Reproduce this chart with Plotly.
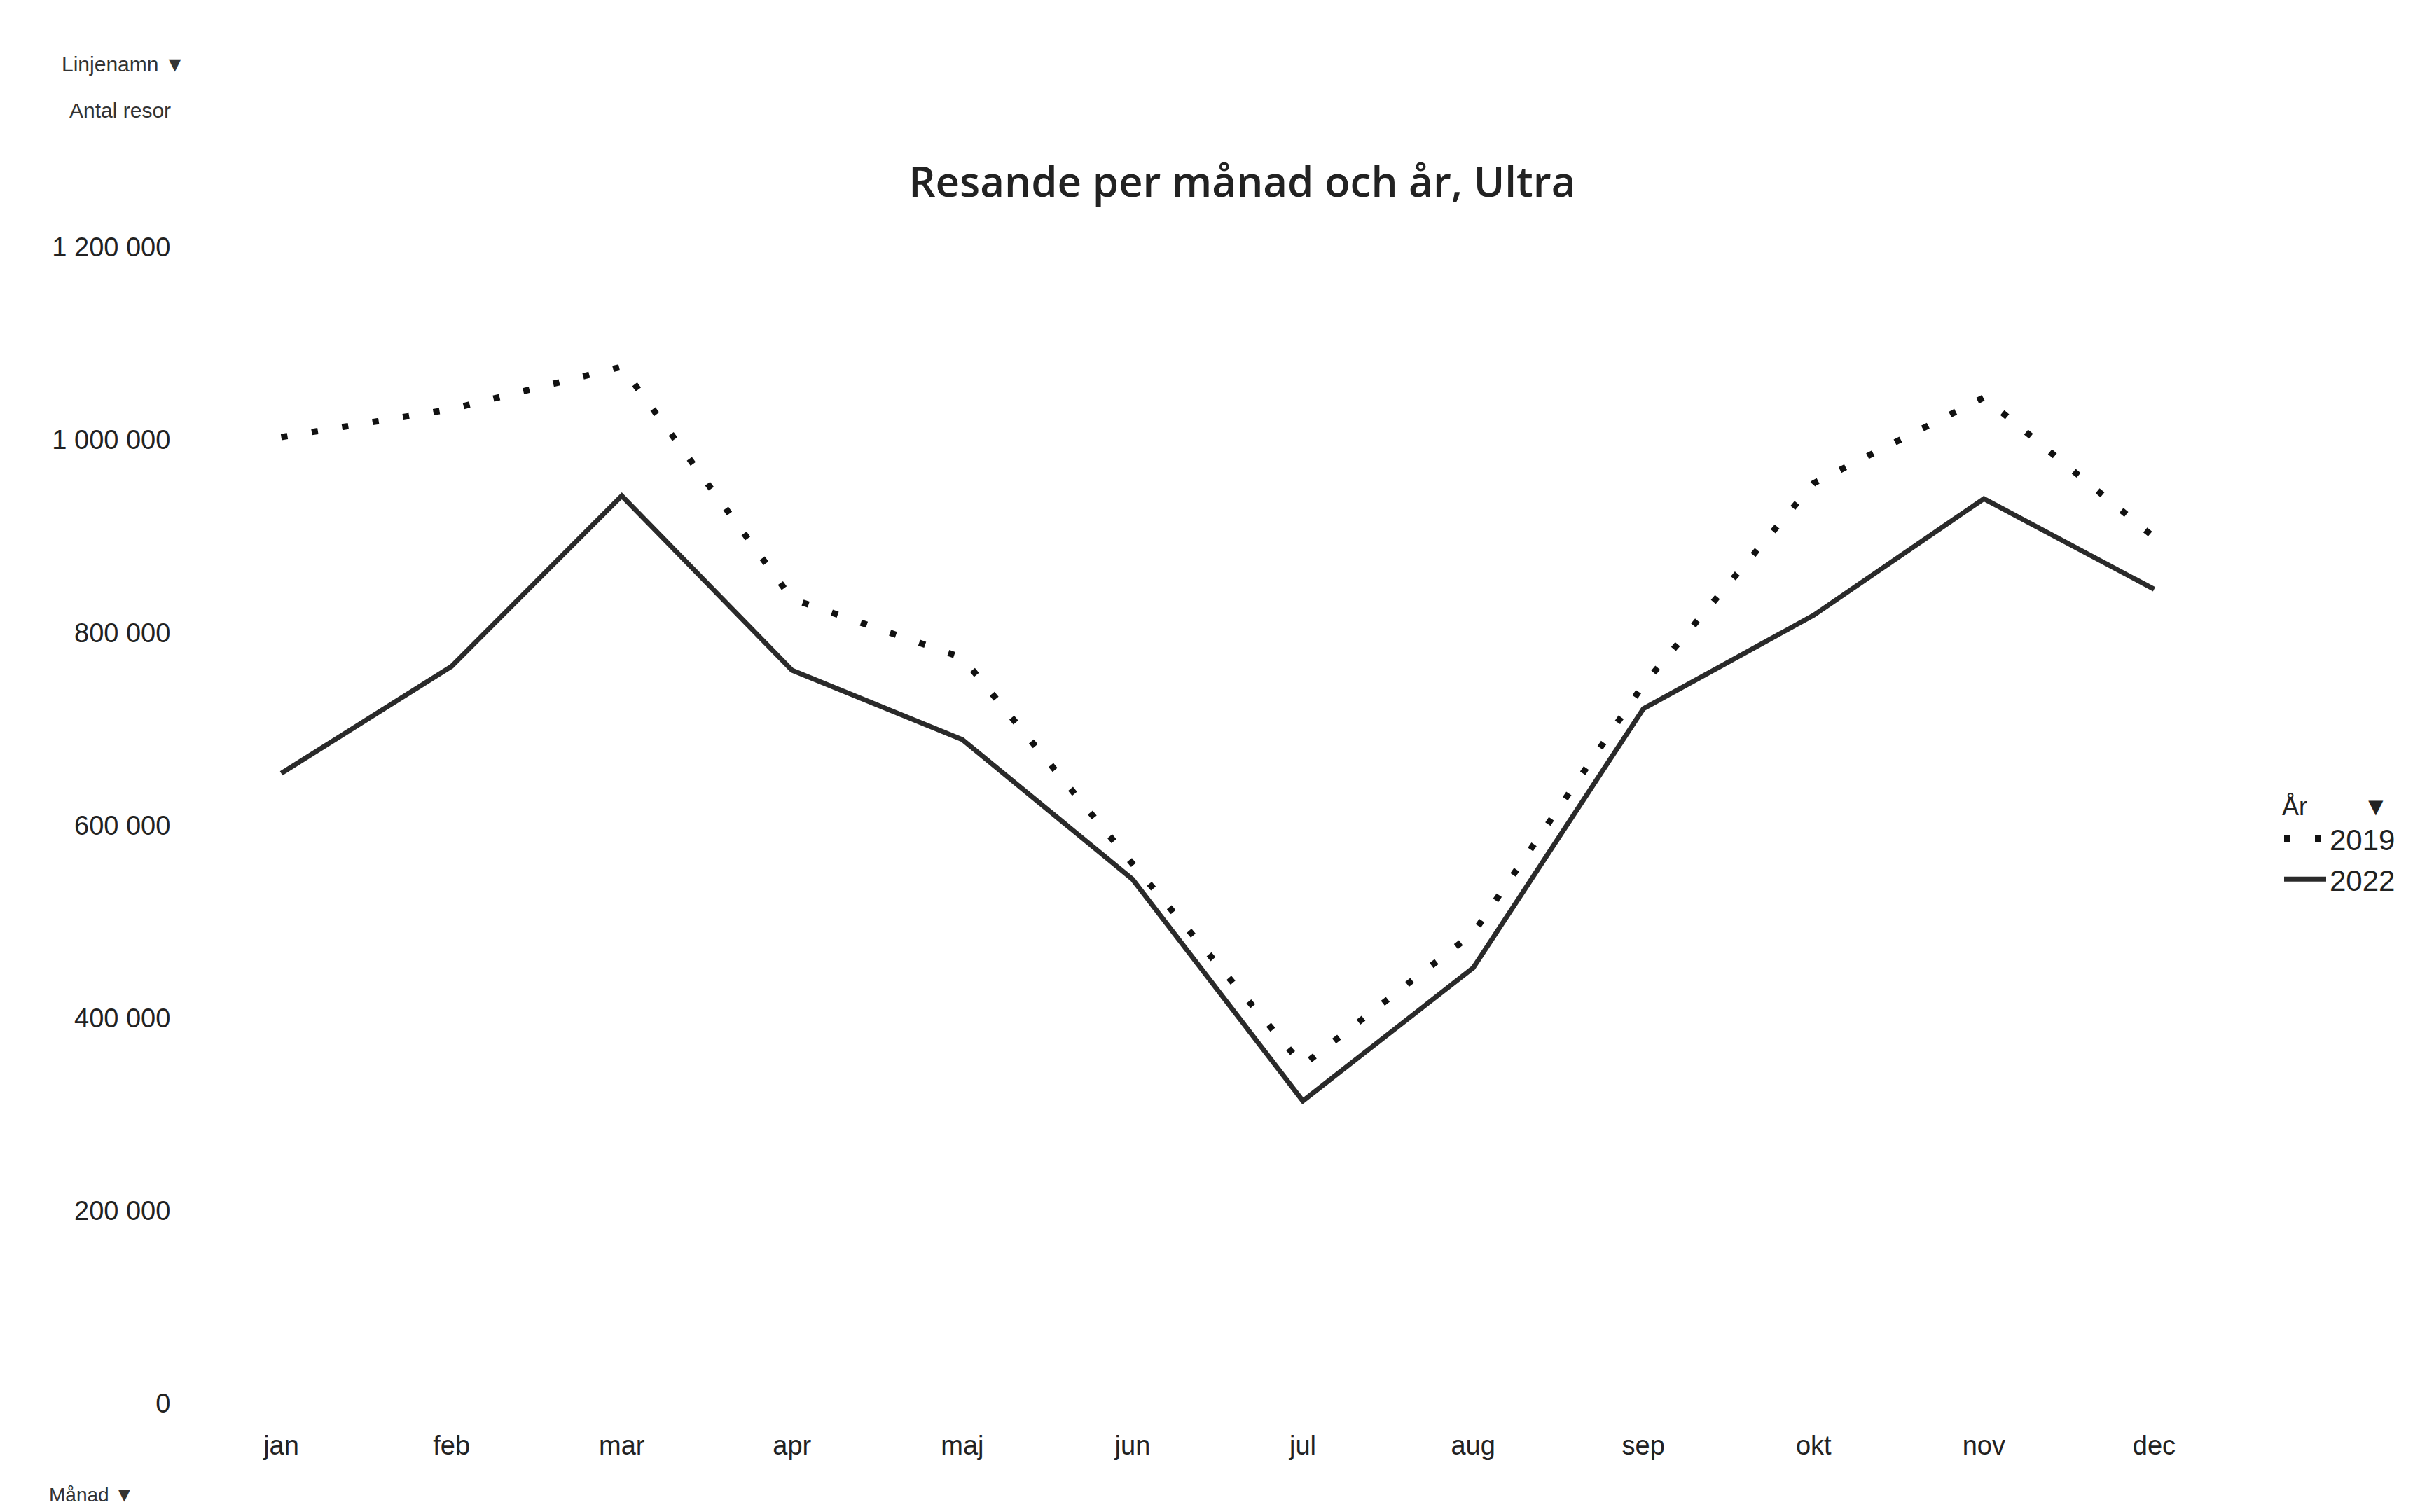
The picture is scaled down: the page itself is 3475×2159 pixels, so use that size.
import plotly.graph_objects as go

months = ["jan", "feb", "mar", "apr", "maj", "jun", "jul", "aug", "sep", "okt", "nov", "dec"]
years = ["2019", "2022"]
values_2019 = [1003000, 1032000, 1076000, 835000, 774000, 560000, 351000, 488000, 746000, 955000, 1044000, 899000]
values_2022 = [654000, 765000, 942000, 761000, 689000, 544000, 314000, 452000, 721000, 818000, 939000, 845000]
y_ticks = [0, 200000, 400000, 600000, 800000, 1000000, 1200000]

W, H = 3475, 2159
FONT = "Liberation Sans"
PL, PR, PT, PB = 272, 286, 345, 163
PW, PH = W - PL - PR, H - PT - PB

fig = go.Figure()
fig.add_trace(go.Scatter(
    x=months, y=values_2019, name=years[0], mode="lines",
    line=dict(color="#111111", width=9, dash="9px,35px"),
))
fig.add_trace(go.Scatter(
    x=months, y=values_2022, name=years[1], mode="lines",
    line=dict(color="#2a2a2a", width=7),
))

fig.update_layout(
    width=W, height=H,
    paper_bgcolor="white", plot_bgcolor="white",
    separators=", ",
    margin=dict(l=PL, r=PR, t=PT, b=PB),
    font=dict(family=FONT, color="#222222", size=36),
    title=dict(text="Resande per månad och år, Ultra", x=0.508, xanchor="center",
               y=1 - 252 / H, yanchor="middle",
               font=dict(family="Open Sans", size=60, color="#222222", weight=600)),
    xaxis=dict(type="category", range=[-0.5, 11.5], showgrid=False, zeroline=False,
               showline=False, ticks="outside", ticklen=26, tickcolor="white",
               tickfont=dict(size=38, family=FONT)),
    yaxis=dict(range=[0, 1200000], tickvals=y_ticks, tickformat=",d", showgrid=False,
               zeroline=False, showline=False, ticks="outside", ticklen=28, tickcolor="white",
               tickfont=dict(size=38, family=FONT)),
    legend=dict(x=(3248 - PL) / PW, xanchor="left", y=(H - PB - 1195) / PH, yanchor="middle",
                title=dict(text="År        ▼", font=dict(size=36, family=FONT)),
                font=dict(size=42, family=FONT), itemwidth=60,
                tracegroupgap=0, bgcolor="rgba(0,0,0,0)"),
    showlegend=True,
)

fig.add_annotation(text="Linjenamn ▼", xref="paper", yref="paper", x=(78 - PL) / PW, xanchor="left",
                   y=1 + (PT - 84) / PH, yanchor="middle", showarrow=False,
                   font=dict(size=30, family=FONT, color="#333333"))
fig.add_annotation(text="Antal resor", xref="paper", yref="paper", x=(89 - PL) / PW, xanchor="left",
                   y=1 + (PT - 150) / PH, yanchor="middle", showarrow=False,
                   font=dict(size=30, family=FONT, color="#333333"))
fig.add_annotation(text="Månad ▼", xref="paper", yref="paper", x=(60 - PL) / PW, xanchor="left",
                   y=-(2126 - (H - PB)) / PH, yanchor="middle", showarrow=False,
                   font=dict(size=28, family=FONT, color="#333333"))

fig.write_html("out.html")
